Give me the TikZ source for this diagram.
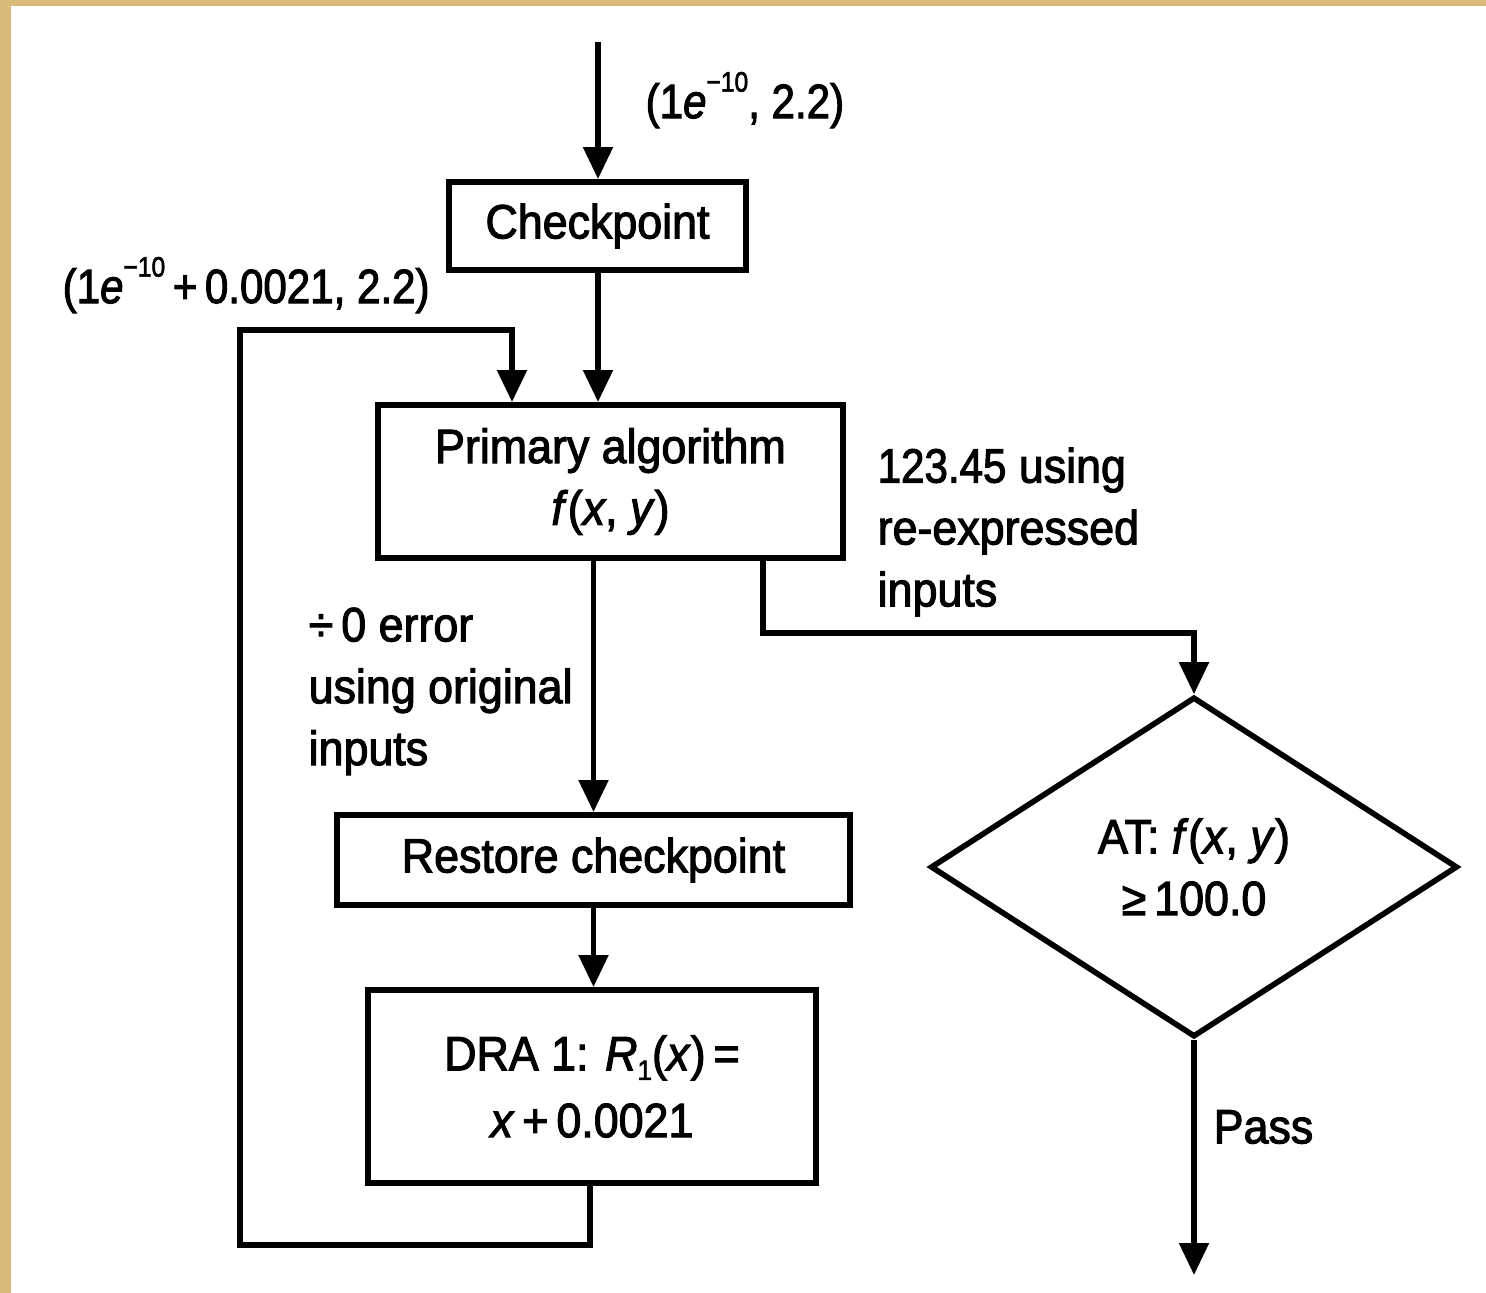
\documentclass[tikz,border=0pt]{standalone}
\usepackage{fontspec}
\setmainfont[FakeStretch=0.93,FakeBold=2.2]{Liberation Sans}
\usetikzlibrary{arrows.meta,shapes.geometric,calc}
\definecolor{framecol}{HTML}{D9BB79}
\newcommand\mysup[1]{\raisebox{0.55em}{\fontsize{8pt}{8pt}\selectfont #1}}
\newcommand\mysub[1]{\raisebox{-0.2em}{\fontsize{8pt}{8pt}\selectfont #1}}
\begin{document}
\begin{tikzpicture}[
  every node/.style={font=\fontsize{13.7pt}{17.6pt}\selectfont, inner sep=0pt},
  arr/.style={line width=1.5pt,-{Triangle[length=0.32cm,width=0.29cm]}},
  box/.style={draw,line width=1.7pt,rectangle,align=center},
  lbl/.style={align=left,anchor=north west}
]
\useasboundingbox (0,0) rectangle (14.86,-12.93);
\fill[white] (0,0) rectangle (14.86,-12.93);
\fill[framecol] (0,0) rectangle (14.86,-0.06);
\fill[framecol] (0,0) rectangle (0.11,-12.93);

% boxes
\node[box,minimum width=2.97cm,minimum height=0.88cm] (chk) at (5.975,-2.26) {Checkpoint};
\node[box,minimum width=4.65cm,minimum height=1.53cm] (prim) at (6.105,-4.815) {Primary algorithm\\\textit{f}(\textit{x}, \textit{y})};
\node[box,minimum width=5.13cm,minimum height=0.90cm] (rest) at (5.935,-8.60) {Restore checkpoint};
\node[box,minimum width=4.48cm,minimum height=1.93cm] (dra) at (5.92,-10.865) {DRA 1: \textit{R}\mysub{1}(\textit{x})\,=\\[0.05cm]\textit{x}\,+\,0.0021};
\node[draw,diamond,line width=1.6pt,minimum width=5.27cm,minimum height=3.40cm,aspect=1.55,align=center] (dia) at (11.94,-8.67) {AT: \textit{f}(\textit{x}, \textit{y})\\≥\,100.0};

% free ends
\coordinate (start) at (5.98,-0.42);
\coordinate (out) at (11.92,-12.75);
\coordinate (lb) at (2.40,-12.45);
\coordinate (lt) at (2.40,-3.30);

% connectors
\draw[arr] (start) -- (start |- chk.north);
\draw[arr] (start |- chk.south) -- (start |- prim.north);
\draw[arr] ($(dra.south)+(-0.02,0)$) |- (lb) -- (lt) -| ($(prim.north)+(-0.985,0)$);
\draw[arr] (rest.north |- prim.south) -- (rest.north);
\draw[arr] (rest.south) -- (rest.south |- dra.north);
\draw[arr] ($(prim.south)+(1.525,0)$) -- ++(0,-0.72) -| (dia.north);
\draw[arr] (dia.south) -- (dia.south |- out);

% labels
\node[anchor=west] (l1) at (6.45,-1.0) {\scalebox{0.94}[1]{(1\textit{e}\mysup{−10}, 2.2)}};
\node[anchor=west] (l2) at (0.62,-2.85) {\scalebox{0.94}[1]{(1\textit{e}\mysup{−10}\,+\,0.0021, 2.2)}};
\node[lbl] (l3) at (3.08,-6.07) {÷\,0 error\\using original\\inputs};
\node[lbl] (l4) at (8.77,-4.47) {\scalebox{0.94}[1]{123.45} using\\re-expressed\\inputs};
\node[anchor=west] (l5) at (12.13,-11.27) {Pass};
\end{tikzpicture}
\end{document}
